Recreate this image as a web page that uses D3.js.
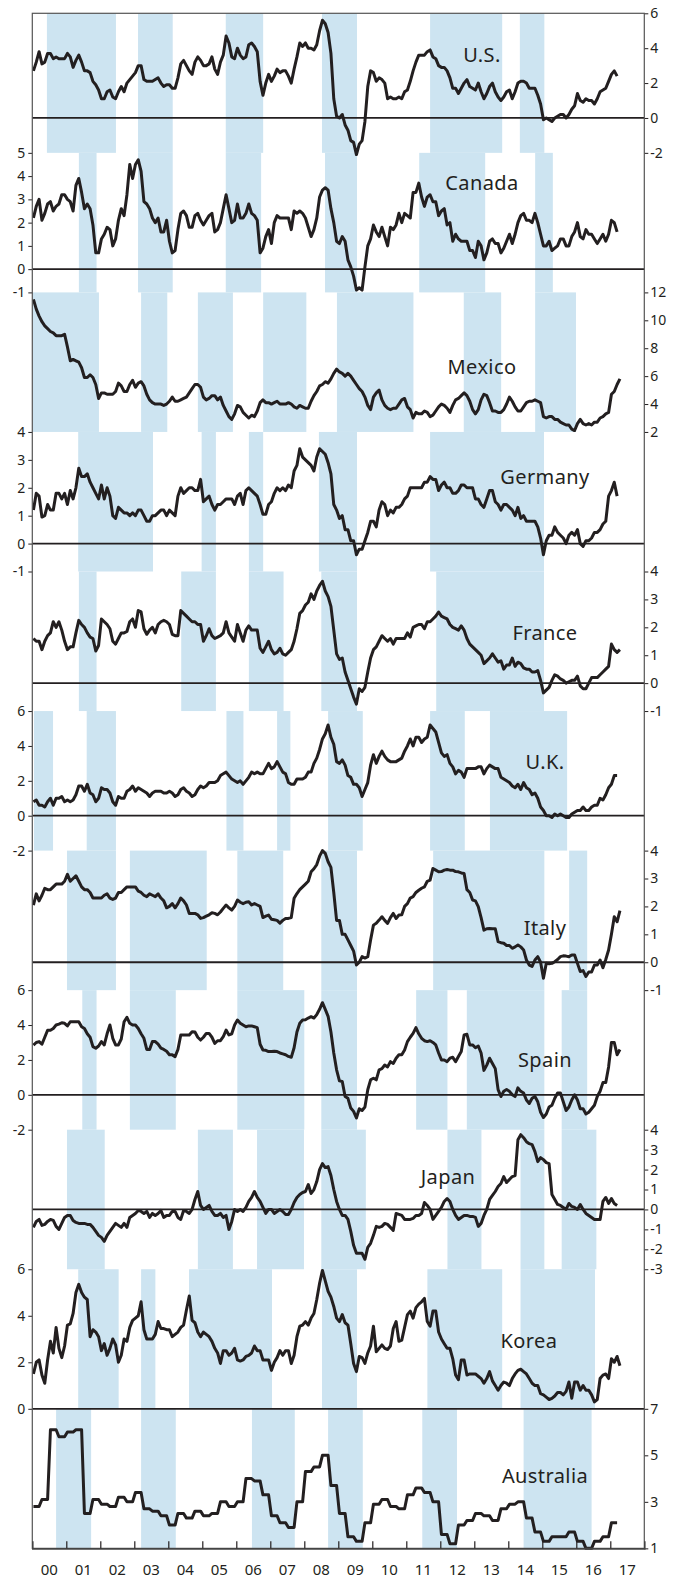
<!DOCTYPE html>
<html>
<head>
<meta charset="utf-8">
<script src="https://cdn.jsdelivr.net/npm/d3@7"></script>
<style>
  body { margin: 0; background: #ffffff; }
  svg { display: block; font-family: "Noto Sans", "Open Sans", sans-serif; }
</style>
</head>
<body>
<svg id="chart" width="681" height="1578"></svg>
<script>
// year labels along the bottom (one per year interval)
const yearLabels = ["00","01","02","03","04","05","06","07","08","09","10","11","12","13","14","15","16","17"];
const countries = ["U.S.","Canada","Mexico","Germany","France","U.K.","Italy","Spain","Japan","Korea","Australia"];

// monthly y/y inflation, starting Jan 2000
const usCpi = [
  2.7,3.2,3.8,3.1,3.2,3.7,3.7,3.4,3.5,3.4,3.4,3.4,
  3.7,3.5,2.9,3.3,3.6,3.2,2.7,2.7,2.6,2.1,1.9,1.6,
  1.1,1.1,1.5,1.6,1.2,1.1,1.5,1.8,1.5,2.0,2.2,2.4,
  2.6,3.0,3.0,2.2,2.1,2.1,2.1,2.2,2.3,2.0,1.8,1.9,
  1.9,1.7,1.7,2.3,3.1,3.3,3.0,2.7,2.5,3.2,3.5,3.3,
  3.0,3.0,3.1,3.5,2.8,2.5,3.2,3.6,4.7,4.3,3.5,3.4,
  4.0,3.6,3.4,3.5,4.2,4.3,4.1,3.8,2.1,1.3,2.0,2.5,
  2.1,2.4,2.8,2.6,2.7,2.7,2.4,2.0,2.8,3.5,4.3,4.1,
  4.3,4.0,4.0,3.9,4.2,5.0,5.6,5.4,4.9,3.7,1.1,0.1,
  0.0,0.2,-0.4,-0.7,-1.3,-1.4,-2.1,-1.5,-1.3,-0.2,1.8,2.7,
  2.6,2.1,2.3,2.2,2.0,1.1,1.2,1.1,1.1,1.2,1.1,1.5,
  1.6,2.1,2.7,3.2,3.6,3.6,3.6,3.8,3.9,3.5,3.4,3.0,
  2.9,2.9,2.7,2.3,1.7,1.7,1.4,1.7,2.0,2.2,1.8,1.7,
  1.6,2.0,1.5,1.1,1.4,1.8,2.0,1.5,1.2,1.0,1.2,1.5,
  1.6,1.1,1.5,2.0,2.1,2.1,2.0,1.7,1.7,1.7,1.3,0.8,
  -0.1,0.0,-0.1,-0.2,0.0,0.1,0.2,0.2,0.0,0.2,0.5,0.7,
  1.4,1.0,0.9,1.1,1.0,1.0,0.8,1.1,1.5,1.6,1.7,2.1,
  2.5,2.7,2.4
];
const canadaCpi = [
  2.2,2.7,3.0,2.1,2.4,2.8,2.9,2.5,2.7,2.8,3.2,3.2,
  3.0,2.9,2.5,3.6,3.9,3.3,2.6,2.8,2.6,1.9,0.7,0.7,
  1.3,1.5,1.8,1.7,1.0,1.3,2.1,2.6,2.3,3.2,4.5,3.9,
  4.5,4.7,4.2,2.9,2.8,2.6,2.2,2.0,2.2,1.6,1.6,2.1,
  1.2,0.7,0.8,1.7,2.4,2.5,2.3,1.8,1.8,2.3,2.4,2.1,
  1.9,2.1,2.3,2.4,1.6,1.7,2.0,2.6,3.2,2.6,2.0,2.1,
  2.8,2.2,2.2,2.4,2.8,2.4,2.3,2.1,0.7,0.9,1.4,1.7,
  1.1,2.0,2.3,2.2,2.2,2.2,2.2,1.7,2.5,2.4,2.5,2.4,
  2.2,1.8,1.4,1.7,2.2,3.1,3.4,3.5,3.4,2.6,2.0,1.2,
  1.1,1.4,1.2,0.4,0.1,-0.3,-0.9,-0.8,-0.9,0.1,1.0,1.3,
  1.9,1.6,1.4,1.8,1.4,1.0,1.8,1.7,1.9,2.4,2.0,2.4,
  2.3,2.2,3.3,3.3,3.7,3.1,2.7,3.1,3.2,2.9,2.9,2.3,
  2.5,2.6,1.9,2.0,1.2,1.5,1.3,1.2,1.2,1.2,0.8,0.8,
  0.5,1.2,1.0,0.4,0.7,1.2,1.3,1.1,1.1,0.7,0.9,1.2,
  1.5,1.1,1.5,2.0,2.3,2.4,2.1,2.1,2.0,2.4,2.0,1.5,
  1.0,1.0,1.2,0.8,0.9,1.0,1.3,1.3,1.0,1.0,1.4,1.6,
  2.0,1.4,1.3,1.7,1.5,1.5,1.3,1.1,1.3,1.5,1.2,1.5,
  2.1,2.0,1.6
];
const mexicoCpi = [
  11.5,10.8,10.3,9.9,9.6,9.4,9.2,9.1,8.9,8.9,8.9,9.0,
  8.1,7.1,7.2,7.1,7.0,6.6,5.9,5.9,6.1,5.9,5.4,4.4,
  4.8,4.8,4.7,4.7,4.7,4.9,5.5,5.3,4.9,4.9,5.4,5.7,
  5.2,5.5,5.6,5.3,4.7,4.3,4.1,4.0,4.0,4.0,3.9,4.0,
  4.2,4.5,4.2,4.2,4.3,4.4,4.5,4.8,5.1,5.4,5.4,5.2,
  4.5,4.3,4.4,4.6,4.6,4.3,4.5,3.9,3.5,3.1,2.9,3.3,
  3.9,3.8,3.4,3.2,3.0,3.2,3.1,3.5,4.1,4.3,4.1,4.1,
  4.0,4.1,4.2,4.0,4.0,4.0,4.1,4.0,3.8,3.7,3.9,3.8,
  3.7,3.7,4.2,4.6,4.9,5.3,5.4,5.6,5.5,5.8,6.2,6.5,
  6.3,6.2,6.0,6.2,6.0,5.7,5.4,5.1,4.9,4.5,3.9,3.6,
  4.5,4.8,5.0,4.3,3.9,3.7,3.6,3.7,3.7,4.0,4.3,4.4,
  3.8,3.6,3.0,3.4,3.3,3.3,3.5,3.4,3.1,3.2,3.5,3.8,
  4.0,3.9,3.7,3.4,3.9,4.3,4.4,4.6,4.8,4.6,4.2,3.6,
  3.3,3.6,4.3,4.7,4.6,4.1,3.5,3.5,3.4,3.4,3.6,4.0,
  4.5,4.2,3.8,3.5,3.5,3.8,4.1,4.2,4.2,4.3,4.2,4.1,
  3.1,3.0,3.1,3.1,2.9,2.9,2.7,2.6,2.5,2.5,2.2,2.1,
  2.6,2.9,2.6,2.5,2.6,2.5,2.7,2.7,3.0,3.1,3.3,3.4,
  4.7,4.9,5.4,5.8
];
const germanyCpi = [
  1.2,1.8,1.7,0.95,1.0,1.4,1.2,1.2,1.8,1.8,1.6,1.8,
  1.4,1.9,1.6,2.0,2.7,2.4,2.4,2.5,2.2,2.0,1.8,1.6,
  2.1,1.6,2.0,1.7,1.0,0.9,1.3,1.2,1.1,1.1,1.0,1.1,
  1.0,1.2,1.2,1.0,0.8,0.8,1.0,1.0,1.1,1.2,1.2,1.0,
  1.2,1.1,1.0,1.7,2.0,1.8,1.9,2.0,2.0,1.9,1.9,2.3,
  1.5,1.6,1.7,1.4,1.2,1.4,1.4,1.5,1.6,1.6,1.6,1.4,
  1.7,1.8,1.4,1.9,2.0,1.9,1.8,1.7,1.4,1.05,1.05,1.4,
  1.5,1.8,2.0,1.9,2.0,1.9,2.1,2.0,2.6,2.8,3.4,3.1,
  3.0,2.9,2.8,2.6,3.1,3.4,3.3,3.2,2.9,2.5,1.4,1.2,
  0.9,1.0,0.5,0.5,0.1,0.1,-0.4,-0.2,-0.2,0.1,0.4,0.8,
  0.8,0.6,1.2,1.5,1.4,1.0,1.2,1.1,1.3,1.3,1.4,1.6,
  1.7,2.0,2.0,2.0,2.0,2.0,2.2,2.2,2.4,2.3,2.3,1.9,
  2.1,2.2,2.0,2.0,1.8,1.8,1.9,2.1,2.1,2.0,2.0,2.0,
  1.6,1.6,1.4,1.3,1.6,1.9,1.9,1.5,1.4,1.2,1.4,1.4,
  1.3,1.2,1.0,1.3,0.9,1.0,0.8,0.8,0.8,0.8,0.6,0.2,
  -0.4,0.1,0.3,0.3,0.6,0.4,0.3,0.2,0.0,0.3,0.4,0.3,
  0.5,0.0,-0.1,0.1,0.1,0.2,0.4,0.4,0.5,0.7,0.8,1.7,
  1.9,2.2,1.7
];
const franceCpi = [
  1.6,1.5,1.5,1.2,1.5,1.7,1.8,2.2,2.0,2.2,1.9,1.5,
  1.2,1.3,1.3,1.8,2.25,2.1,2.0,1.8,1.65,1.6,1.15,1.35,
  2.3,2.2,2.1,1.95,1.5,1.4,1.6,1.8,1.8,1.85,2.2,2.3,
  2.0,2.6,2.55,1.95,1.75,1.9,2.0,1.8,2.1,2.2,2.25,2.2,
  2.1,1.75,1.7,1.7,2.6,2.5,2.4,2.3,2.2,2.2,2.1,2.1,
  1.5,1.7,1.95,1.7,1.6,1.65,1.7,1.8,2.2,1.8,1.65,1.5,
  2.1,1.8,1.5,1.9,2.05,1.9,1.9,1.9,1.25,1.1,1.3,1.5,
  1.2,1.05,1.1,1.25,1.05,1.0,1.1,1.2,1.5,1.95,2.5,2.6,
  2.8,2.9,3.2,3.0,3.3,3.5,3.65,3.3,3.1,2.75,1.9,1.05,
  0.85,0.9,0.4,0.1,-0.2,-0.5,-0.75,-0.2,-0.3,-0.15,0.4,0.9,
  1.2,1.3,1.5,1.7,1.6,1.5,1.6,1.4,1.6,1.6,1.6,1.6,
  1.8,1.65,2.0,2.05,2.1,2.1,1.95,2.2,2.2,2.3,2.4,2.55,
  2.4,2.35,2.3,2.1,2.0,1.95,1.9,2.05,1.9,1.6,1.4,1.3,
  1.2,1.1,1.0,0.7,0.8,0.9,1.05,0.9,0.75,0.8,0.5,0.65,
  0.65,0.9,0.6,0.75,0.7,0.55,0.5,0.5,0.4,0.4,0.45,0.1,
  -0.35,-0.25,-0.15,0.1,0.3,0.25,0.15,0.1,0.0,0.05,0.1,0.1,
  0.25,-0.1,-0.2,-0.2,0.0,0.2,0.2,0.2,0.3,0.4,0.5,0.6,
  1.4,1.2,1.1,1.2
];
const ukCpi = [
  0.8,0.9,0.6,0.6,0.5,0.8,1.0,0.6,1.0,1.0,1.1,0.8,
  0.9,0.8,0.9,1.2,1.7,1.7,1.4,1.8,1.3,1.2,0.8,1.0,
  1.6,1.5,1.5,1.3,0.8,0.6,1.1,1.0,1.0,1.4,1.5,1.7,
  1.4,1.6,1.5,1.4,1.3,1.1,1.3,1.4,1.4,1.4,1.3,1.3,
  1.4,1.3,1.1,1.2,1.5,1.6,1.4,1.3,1.1,1.2,1.5,1.7,
  1.6,1.7,1.9,1.9,1.9,2.0,2.3,2.4,2.5,2.3,2.1,2.0,
  1.9,2.0,1.8,2.0,2.2,2.5,2.4,2.5,2.4,2.4,2.7,3.0,
  2.7,2.8,3.1,2.8,2.5,2.4,1.9,1.8,1.8,2.1,2.1,2.1,
  2.2,2.5,2.5,3.0,3.3,3.8,4.4,4.7,5.2,4.5,4.1,3.1,
  3.0,3.2,2.9,2.3,2.2,1.8,1.8,1.6,1.1,1.5,1.9,2.9,
  3.5,3.0,3.4,3.7,3.4,3.2,3.1,3.1,3.1,3.2,3.3,3.7,
  4.0,4.4,4.0,4.5,4.5,4.2,4.4,4.5,5.2,5.0,4.8,4.2,
  3.6,3.4,3.5,3.0,2.8,2.4,2.6,2.5,2.2,2.7,2.7,2.7,
  2.7,2.8,2.8,2.4,2.7,2.9,2.8,2.7,2.7,2.2,2.1,2.0,
  1.9,1.7,1.6,1.8,1.5,1.9,1.6,1.5,1.2,1.3,1.0,0.5,
  0.3,0.0,0.0,-0.1,0.1,0.0,0.1,0.0,-0.1,-0.1,0.1,0.2,
  0.3,0.3,0.5,0.3,0.3,0.5,0.6,0.6,1.0,0.9,1.2,1.6,
  1.8,2.3,2.3
];
const italyCpi = [
  2.05,2.45,2.2,2.4,2.65,2.6,2.6,2.7,2.8,2.8,2.8,2.9,
  3.15,2.9,3.0,3.1,2.9,2.7,2.6,2.6,2.5,2.3,2.3,2.3,
  2.3,2.4,2.45,2.3,2.25,2.3,2.5,2.5,2.6,2.7,2.7,2.7,
  2.7,2.55,2.5,2.4,2.35,2.45,2.4,2.35,2.45,2.3,2.2,1.95,
  2.0,2.1,1.95,2.1,2.3,2.2,2.05,1.75,1.75,1.75,1.7,1.57,
  1.6,1.65,1.7,1.77,1.75,1.7,1.8,1.93,2.05,1.95,1.87,2.0,
  2.23,2.15,2.1,2.15,2.17,2.05,2.1,2.05,2.0,1.6,1.65,1.69,
  1.54,1.52,1.5,1.4,1.5,1.57,1.57,1.6,2.29,2.46,2.6,2.7,
  2.8,2.9,3.24,3.35,3.5,3.8,4.0,3.9,3.6,3.4,2.5,1.5,
  1.5,1.0,1.0,0.8,0.6,0.4,-0.1,0.0,0.2,0.15,0.2,0.8,
  1.33,1.4,1.51,1.63,1.5,1.39,1.6,1.75,1.57,1.69,1.7,2.0,
  2.1,2.3,2.35,2.5,2.58,2.65,2.7,2.9,2.94,3.36,3.3,3.24,
  3.25,3.3,3.32,3.3,3.3,3.25,3.24,3.2,3.18,2.6,2.5,2.23,
  2.2,1.99,1.6,1.15,1.2,1.21,1.2,1.2,0.74,0.7,0.68,0.6,
  0.6,0.5,0.55,0.62,0.55,0.44,0.08,-0.1,-0.15,0.08,0.2,0.0,
  -0.57,-0.04,-0.05,-0.04,0.02,0.1,0.2,0.23,0.22,0.2,0.26,0.26,
  -0.04,-0.33,-0.3,-0.51,-0.35,-0.35,-0.1,-0.1,0.08,-0.2,0.1,0.44,
  1.0,1.63,1.45,1.85
];
const spainCpi = [
  2.85,3.0,3.05,2.9,3.3,3.7,3.7,3.8,4.0,4.05,4.13,4.1,
  3.95,4.19,4.19,4.19,4.19,3.9,3.8,3.5,3.3,2.76,2.67,2.8,
  3.05,2.86,3.5,4.0,3.24,2.86,2.86,3.2,4.19,4.44,4.1,4.0,
  4.0,3.8,3.5,3.24,2.6,2.6,3.05,3.05,2.9,2.67,2.6,2.5,
  2.3,2.29,2.19,2.6,3.43,3.43,3.43,3.43,3.62,3.6,3.3,3.14,
  3.3,3.52,3.52,3.3,2.95,3.1,3.1,3.33,3.71,3.43,3.5,4.0,
  4.29,4.1,4.0,3.9,3.95,3.95,3.9,3.85,2.9,2.57,2.55,2.48,
  2.48,2.5,2.48,2.4,2.35,2.3,2.2,2.15,2.7,3.6,4.1,4.29,
  4.3,4.4,4.48,4.4,4.6,4.9,5.28,4.9,4.5,3.6,2.4,1.43,
  0.8,0.76,-0.1,-0.2,-0.76,-0.95,-1.33,-0.8,-0.9,-0.7,0.29,0.86,
  0.95,0.86,1.43,1.5,1.71,1.6,1.9,1.8,2.1,2.3,2.29,2.57,
  3.05,3.3,3.52,3.85,3.5,3.24,3.1,3.05,3.1,3.0,2.86,2.4,
  2.0,2.0,1.9,2.1,2.15,1.9,2.2,2.48,3.43,3.47,2.86,2.86,
  2.7,2.8,2.4,1.4,1.7,2.1,1.8,1.5,0.3,-0.1,0.2,0.3,
  0.2,0.0,-0.1,0.4,0.2,0.1,-0.3,-0.5,-0.2,-0.1,-0.4,-1.0,
  -1.3,-1.1,-0.7,-0.6,-0.2,0.1,0.1,-0.4,-0.9,-0.7,-0.3,0.0,
  -0.3,-0.8,-0.8,-1.1,-1.0,-0.8,-0.6,-0.1,0.2,0.7,0.7,1.6,
  3.0,3.0,2.3,2.6
];
const japanCpi = [
  -0.9,-0.6,-0.5,-0.8,-0.75,-0.6,-0.5,-0.55,-0.85,-1.0,-0.7,-0.4,
  -0.3,-0.3,-0.55,-0.65,-0.7,-0.7,-0.7,-0.75,-0.75,-0.9,-1.1,-1.3,
  -1.4,-1.6,-1.3,-1.1,-0.9,-0.7,-0.8,-0.9,-0.7,-0.9,-0.4,-0.3,
  -0.2,-0.05,-0.1,-0.2,-0.1,-0.4,-0.2,-0.3,-0.2,-0.05,-0.4,-0.3,
  -0.3,-0.1,-0.1,-0.4,-0.5,-0.05,-0.1,-0.2,0.0,0.5,0.9,0.2,
  0.0,0.1,0.2,-0.1,-0.3,-0.3,-0.2,-0.4,-0.3,-1.0,-0.6,0.0,
  -0.1,0.0,-0.1,0.1,0.4,0.6,0.9,0.6,0.4,0.1,-0.2,0.0,
  0.0,-0.2,-0.1,0.0,-0.1,-0.25,-0.25,0.0,0.35,0.6,0.75,0.85,
  0.9,1.25,0.8,1.0,1.4,2.0,2.3,2.1,2.15,1.7,1.0,0.4,
  0.0,-0.3,-0.3,-0.5,-1.1,-1.8,-2.2,-2.2,-2.2,-2.5,-1.9,-1.7,
  -1.3,-0.85,-0.9,-0.85,-0.7,-0.75,-0.9,-1.05,-0.2,-0.25,-0.3,-0.5,
  -0.5,-0.5,-0.45,-0.3,-0.3,-0.2,0.35,0.2,0.0,-0.5,-0.3,-0.1,
  0.1,0.4,0.55,0.4,0.0,-0.3,-0.5,-0.4,-0.3,-0.3,-0.35,-0.35,
  -0.4,-0.85,-0.7,-0.3,0.0,0.5,0.7,0.9,1.15,1.3,1.65,1.35,
  1.5,1.65,1.7,3.5,3.75,3.6,3.4,3.3,3.25,2.9,2.4,2.6,
  2.5,2.35,2.3,0.75,0.5,0.25,0.2,0.1,0.0,0.3,0.15,0.1,
  0.0,0.25,0.0,-0.2,-0.3,-0.4,-0.5,-0.5,-0.5,0.4,0.6,0.3,
  0.55,0.3,0.2
];
const koreaCpi = [
  1.5,2.0,2.1,1.45,1.1,2.1,2.9,2.4,3.5,2.6,2.2,2.7,
  3.6,3.65,4.1,5.0,5.35,5.0,4.8,4.7,3.1,3.4,3.3,3.1,
  2.5,2.8,2.3,2.6,3.0,2.75,2.0,2.3,3.0,2.9,3.5,3.8,
  3.9,4.0,4.6,3.4,3.0,3.0,3.0,3.2,3.75,3.45,3.45,3.4,
  3.4,3.1,3.2,3.3,3.5,3.6,4.25,4.85,3.8,3.7,3.3,3.1,
  3.3,3.2,3.1,2.9,2.6,2.4,1.95,2.5,2.5,2.3,2.4,2.6,
  2.1,2.05,2.1,2.25,2.3,2.4,2.7,2.5,2.5,2.1,2.1,2.1,
  1.65,2.0,2.2,2.5,2.3,2.5,2.5,1.95,2.3,3.1,3.55,3.6,
  3.75,3.6,3.9,4.1,4.7,5.4,5.95,5.5,5.05,4.8,4.4,3.9,
  3.75,4.05,3.7,3.6,2.8,1.95,1.6,2.25,2.2,1.95,2.4,2.7,
  3.55,2.45,2.6,2.75,2.6,2.55,2.7,3.45,3.75,2.9,2.95,3.5,
  4.05,4.2,3.9,4.35,4.5,4.6,4.75,3.75,3.55,4.2,4.2,3.3,
  3.0,2.8,2.6,2.6,2.15,1.45,1.25,2.1,2.1,1.45,1.5,1.5,
  1.5,1.4,1.3,1.1,1.3,1.6,1.2,1.0,0.8,1.0,1.15,1.1,
  1.0,1.3,1.5,1.65,1.7,1.6,1.5,1.3,1.1,1.0,1.0,0.65,
  0.6,0.5,0.4,0.45,0.55,0.7,0.7,0.6,0.75,1.15,0.45,1.15,
  1.15,0.8,1.0,0.8,0.8,0.6,0.3,0.4,1.3,1.45,1.5,1.3,
  2.15,2.0,2.25,1.85
];
// Australia is quarterly, Q1 2000 onwards
const australiaCpiQ = [
  2.8,3.1,6.1,5.8, 6.0,6.1,2.5,3.1, 2.9,2.8,3.2,3.0, 3.4,2.7,2.6,2.4,
  2.0,2.5,2.3,2.6, 2.4,2.5,3.0,2.8, 3.0,4.0,3.9,3.3, 2.4,2.1,1.9,3.0,
  4.3,4.5,5.0,3.7, 2.5,1.5,1.3,2.1, 2.9,3.1,2.8,2.7, 3.3,3.6,3.4,3.0,
  1.6,1.2,2.0,2.2, 2.5,2.4,2.2,2.7, 2.9,3.0,2.3,1.7, 1.3,1.5,1.5,1.7,
  1.3,1.0,1.3,1.5, 2.1
];

// shaded periods, in years
const usBands = [[2000.43,2002.46],[2003.11,2004.13],[2005.69,2006.79],[2008.52,2009.55],[2011.70,2013.82],[2014.34,2015.06]];
const canadaBands = [[2001.37,2001.89],[2003.11,2004.13],[2005.69,2006.73],[2008.61,2009.55],[2011.38,2013.32],[2014.79,2015.31]];
const mexicoBands = [[2000.0,2001.96],[2003.20,2003.97],[2004.87,2005.90],[2006.79,2008.06],[2008.96,2011.21],[2012.69,2013.79],[2014.79,2015.99]];
const germanyBands = [[2001.35,2003.55],[2004.98,2005.40],[2006.37,2006.79],[2008.43,2009.55],[2011.70,2015.05]];
const franceBands = [[2001.37,2001.89],[2004.38,2005.40],[2006.37,2007.39],[2008.50,2009.55],[2011.88,2015.05]];
const ukBands = [[2000.05,2000.61],[2001.60,2002.46],[2005.71,2006.21],[2007.20,2007.59],[2008.70,2009.72],[2011.70,2012.72],[2013.46,2015.73]];
const italyBands = [[2001.02,2002.46],[2002.87,2005.13],[2006.03,2007.38],[2008.50,2009.55],[2011.79,2015.06],[2015.79,2016.32]];
const spainBands = [[2001.47,2001.89],[2002.87,2004.22],[2006.03,2008.00],[2008.50,2009.55],[2011.29,2012.21],[2012.78,2015.06],[2015.57,2016.32]];
const japanBands = [[2001.02,2002.13],[2004.87,2005.90],[2006.61,2007.99],[2008.50,2009.81],[2012.21,2013.21],[2014.36,2015.06],[2015.57,2016.59]];
const koreaBands = [[2001.35,2002.54],[2003.20,2003.62],[2004.61,2007.05],[2008.52,2009.55],[2011.62,2013.82],[2014.36,2016.55]];
const australiaBands = [[2000.70,2001.73],[2003.20,2004.22],[2006.46,2007.72],[2008.70,2009.72],[2011.47,2012.49],[2014.45,2016.45]];

// tick labels per panel
const usTicks = [-2,0,2,4,6];
const canadaTicks = [-1,0,1,2,3,4,5];
const mexicoTicks = [2,4,6,8,10,12];
const germanyTicks = [-1,0,1,2,3,4];
const franceTicks = [-1,0,1,2,3,4];
const ukTicks = [-2,0,2,4,6];
const italyTicks = [-1,0,1,2,3,4];
const spainTicks = [-2,0,2,4,6];
const japanTicks = [-3,-2,-1,0,1,2,3,4];
const koreaTicks = [0,2,4,6];
const australiaTicks = [1,3,5,7];

// layout
const left = 32.3, right = 644.3, top0 = 13.3, panelH = 139.55;
const ink = "#231f20";
const bandColor = "#cde4f1";
// label anchor (centre x, baseline offset from panel top)
const labelPos = [[482,49],[482,37],[482,82],[545,52],[545,68.5],[545,58],[545,84],[545,77],[448,54],[529,79],[545,74.5]];

const australiaMonthly = australiaCpiQ.flatMap(function(v) { return [v, v, v]; });

const seriesList = [usCpi, canadaCpi, mexicoCpi, germanyCpi, franceCpi, ukCpi, italyCpi, spainCpi, japanCpi, koreaCpi, australiaMonthly];
const bandsList = [usBands, canadaBands, mexicoBands, germanyBands, franceBands, ukBands, italyBands, spainBands, japanBands, koreaBands, australiaBands];
const ticksList = [usTicks, canadaTicks, mexicoTicks, germanyTicks, franceTicks, ukTicks, italyTicks, spainTicks, japanTicks, koreaTicks, australiaTicks];

const svg = d3.select("#chart");
const x = d3.scaleLinear().domain([2000, 2018]).range([left, right]);
function monthX(i) { return x(2000 + (i + 0.4) / 12); }

const bandLayer = svg.append("g");
const zeroLayer = svg.append("g");
const lineLayer = svg.append("g");
const axisLayer = svg.append("g");
const labelLayer = svg.append("g");

countries.forEach(function(name, p) {
  const ticks = ticksList[p];
  const top = top0 + p * panelH;
  const y = d3.scaleLinear().domain(d3.extent(ticks)).range([top + panelH, top]);

  bandLayer.selectAll(null)
    .data(bandsList[p])
    .join("rect")
    .attr("x", function(d) { return x(d[0]); })
    .attr("width", function(d) { return x(d[1]) - x(d[0]); })
    .attr("y", top)
    .attr("height", panelH)
    .attr("fill", bandColor);

  if (ticks[0] <= 0) {
    zeroLayer.append("line")
      .attr("x1", left).attr("x2", right)
      .attr("y1", y(0)).attr("y2", y(0))
      .attr("stroke", ink)
      .attr("stroke-width", 1.8);
  }

  const line = d3.line()
    .x(function(d, i) { return monthX(i); })
    .y(function(d) { return y(d); });

  lineLayer.append("path")
    .datum(seriesList[p])
    .attr("d", line)
    .attr("fill", "none")
    .attr("stroke", ink)
    .attr("stroke-width", 3)
    .attr("stroke-linejoin", "round");

  const onRight = p % 2 === 0;
  const axis = (onRight ? d3.axisRight(y) : d3.axisLeft(y))
    .tickValues(ticks)
    .tickSize(4)
    .tickPadding(onRight ? 2 : 3)
    .tickFormat(function(d) { return String(d); });

  axisLayer.append("g")
    .attr("transform", "translate(" + (onRight ? right : left) + ",0)")
    .call(axis)
    .call(function(g) { g.select(".domain").remove(); })
    .call(function(g) {
      g.selectAll("line").attr("stroke", ink);
      g.selectAll("text").attr("fill", ink).style("font-size", "14px").style("font-family", "'Noto Sans', sans-serif");
    });

  labelLayer.append("text")
    .attr("x", labelPos[p][0])
    .attr("y", top + labelPos[p][1])
    .attr("text-anchor", "middle")
    .attr("fill", ink)
    .style("font-size", "20px")
    .style("letter-spacing", "0.4px")
    .text(name);
});

// frame
const bottom = top0 + countries.length * panelH;
axisLayer.append("rect")
  .attr("x", left).attr("y", top0)
  .attr("width", right - left).attr("height", bottom - top0)
  .attr("fill", "none")
  .attr("stroke", "#555")
  .attr("stroke-width", 1.2);

// bottom axis: ticks at year boundaries, labels centred on each year
const bottomAxis = d3.axisBottom(x)
  .tickValues(d3.range(2001, 2018))
  .tickSize(-7)
  .tickFormat("");
axisLayer.append("g")
  .attr("transform", "translate(0," + bottom + ")")
  .call(bottomAxis)
  .call(function(g) {
    g.select(".domain").attr("stroke", "#444").attr("stroke-width", 1.6);
    g.selectAll("line").attr("stroke", ink).attr("stroke-width", 1.2);
  });

axisLayer.selectAll(".yearLabel")
  .data(yearLabels)
  .join("text")
  .attr("class", "yearLabel")
  .attr("x", function(d, i) { return x(2000 + i + 0.5); })
  .attr("y", bottom + 27)
  .attr("text-anchor", "middle")
  .attr("fill", ink)
  .style("font-size", "15px")
  .text(function(d) { return d; });
</script>
</body>
</html>
